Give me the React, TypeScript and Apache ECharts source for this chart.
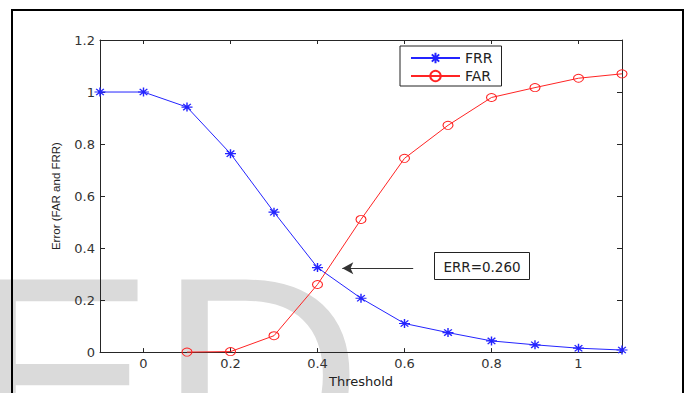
import React, { useEffect, useRef } from "react";
import * as echarts from "echarts";

const thresholds = [-0.1, 0, 0.1, 0.2, 0.3, 0.4, 0.5, 0.6, 0.7, 0.8, 0.9, 1.0, 1.1];
const frrValues = [1.0, 1.0, 0.942, 0.763, 0.538, 0.325, 0.207, 0.11, 0.075, 0.043, 0.028, 0.015, 0.008];
const farThresholds = [0.1, 0.2, 0.3, 0.4, 0.5, 0.6, 0.7, 0.8, 0.9, 1.0, 1.1];
const farValues = [0.0, 0.002, 0.063, 0.26, 0.51, 0.745, 0.872, 0.979, 1.017, 1.053, 1.07];
const xTicks = [0, 0.2, 0.4, 0.6, 0.8, 1];
const errLabel = "ERR=0.260";
const arrowFrom = [0.62, 0.322];
const arrowTo = [0.457, 0.322];

const STAR = "path://M5,0L5,10M0,5L10,5M1.5,1.5L8.5,8.5M1.5,8.5L8.5,1.5";
const AXIS = "#262626";
const LABEL = "#333";
const FONT = "DejaVu Sans";

export default function App() {
  const ref = useRef<HTMLDivElement>(null);
  useEffect(() => {
    const chart = echarts.init(ref.current!, undefined, { renderer: "svg" });
    const fmt = (v: number) => String(Math.round(v * 10) / 10);
    const axisCommon = {
      axisLine: { show: true, onZero: false, lineStyle: { color: AXIS, width: 1 } },
      splitLine: { show: false },
    };
    const wm = (text: string, x: number) => ({
      type: "text",
      z: -10,
      silent: true,
      x,
      y: 376.5,
      style: {
        text,
        fill: "#dadada",
        fontFamily: "Liberation Sans",
        fontSize: 284,
        fontWeight: "normal",
        verticalAlign: "middle",
        align: "left",
      },
    });
    chart.setOption({
      animation: false,
      backgroundColor: "#fff",
      grid: { left: 100, right: 69, top: 40, bottom: 40 },
      xAxis: [
        {
          type: "value",
          min: -0.1,
          max: 1.1,
          position: "bottom",
          ...axisCommon,
          axisTick: { inside: true, length: 4, customValues: xTicks, lineStyle: { color: AXIS } },
          axisLabel: {
            customValues: xTicks,
            formatter: fmt,
            color: LABEL,
            fontFamily: FONT,
            fontSize: 13,
            margin: 5,
          },
          name: "Threshold",
          nameLocation: "middle",
          nameGap: 21,
          nameTextStyle: { color: "#222", fontFamily: FONT, fontSize: 13 },
        },
        {
          type: "value",
          min: -0.1,
          max: 1.1,
          position: "top",
          ...axisCommon,
          axisTick: { inside: true, length: 4, customValues: xTicks, lineStyle: { color: AXIS } },
          axisLabel: { show: false },
        },
      ],
      yAxis: [
        {
          type: "value",
          min: 0,
          max: 1.2,
          interval: 0.2,
          position: "left",
          ...axisCommon,
          axisTick: { inside: true, length: 5, lineStyle: { color: AXIS } },
          axisLabel: { formatter: fmt, color: LABEL, fontFamily: FONT, fontSize: 13, margin: 5 },
          name: "Error (FAR and FRR)",
          nameLocation: "middle",
          nameGap: 38,
          nameTextStyle: { color: "#222", fontFamily: "Liberation Sans", fontSize: 11.5 },
        },
        {
          type: "value",
          min: 0,
          max: 1.2,
          interval: 0.2,
          position: "right",
          ...axisCommon,
          axisTick: { inside: true, length: 5, lineStyle: { color: AXIS } },
          axisLabel: { show: false },
        },
      ],
      legend: {
        orient: "vertical",
        left: 400,
        top: 46,
        data: ["FRR", "FAR"],
        backgroundColor: "#fff",
        borderColor: "#222",
        borderWidth: 1,
        padding: [5, 9, 3, 10],
        itemWidth: 49,
        itemHeight: 13,
        itemGap: 4,
        textStyle: { color: "#222", fontFamily: FONT, fontSize: 14 },
      },
      graphic: [
        wm("E", -34),
        wm("D", 158),
        {
          type: "rect",
          z: 100,
          silent: true,
          shape: { x: 12, y: 10, width: 671, height: 420 },
          style: { fill: "none", stroke: "#000", lineWidth: 2 },
        },
        {
          type: "rect",
          z: 50,
          shape: { x: 434.5, y: 252.5, width: 95, height: 27 },
          style: { fill: "#fff", stroke: "#222", lineWidth: 1 },
        },
        {
          type: "text",
          z: 51,
          x: 482,
          y: 266.5,
          style: {
            text: errLabel,
            fill: "#222",
            font: `13.5px '${FONT}'`,
            align: "center",
            verticalAlign: "middle",
          },
        },
      ],
      series: [
        {
          name: "FRR",
          type: "line",
          data: thresholds.map((t, i) => [t, frrValues[i]]),
          symbol: STAR,
          symbolSize: [11, 9],
          clip: false,
          lineStyle: { color: "#2424ff", width: 1 },
          itemStyle: { color: "#2424ff", borderColor: "#2424ff", borderWidth: 1.3 },
          z: 3,
          markLine: {
            silent: true,
            symbol: ["none", "arrow"],
            symbolSize: [9, 11],
            label: { show: false },
            lineStyle: { color: "#333", width: 1, type: "solid" },
            data: [[{ coord: arrowFrom }, { coord: arrowTo }]],
          },
        },
        {
          name: "FAR",
          type: "line",
          data: farThresholds.map((t, i) => [t, farValues[i]]),
          symbol: "circle",
          symbolSize: [10, 8],
          clip: false,
          lineStyle: { color: "#ff2424", width: 1 },
          itemStyle: { color: "rgba(255,255,255,0)", borderColor: "#ff2424", borderWidth: 1 },
          z: 3,
        },
      ],
    });
    return () => chart.dispose();
  }, []);
  return (
    <div
      ref={ref}
      style={{ position: "absolute", left: 0, top: 0, width: 691, height: 393 }}
    />
  );
}
